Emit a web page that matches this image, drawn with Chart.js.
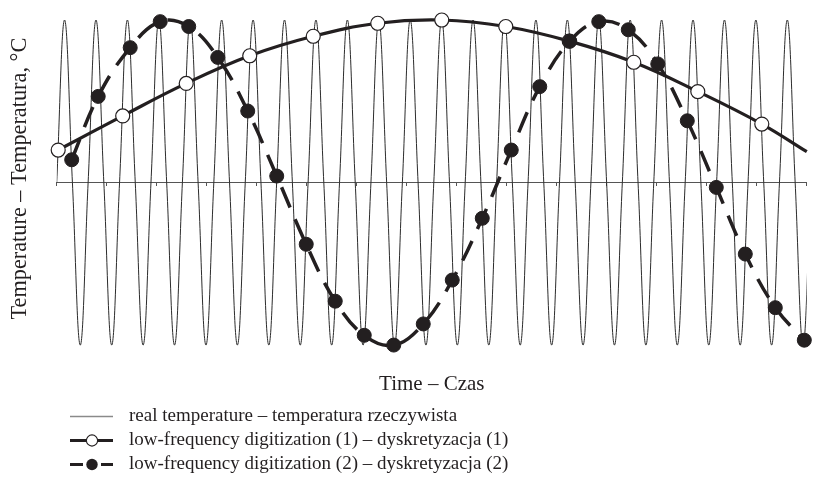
<!DOCTYPE html>
<html>
<head>
<meta charset="utf-8">
<script src="https://cdn.jsdelivr.net/npm/chart.js@4.4.1/dist/chart.umd.min.js"></script>
<style>
  html, body { margin: 0; padding: 0; background: #fff; }
  #wrap { position: relative; width: 815px; height: 479px; }
</style>
</head>
<body>
<div id="wrap"><canvas id="chart"></canvas></div>
<script>
// Real temperature: value at every quarter period (zero, peak, zero, trough ...)
const realStep = 0.1571;
const realValues = [
  0, 1, 0, -1, 0, 1, 0, -1, 0, 1, 0, -1, 0, 1, 0, -1,
  0, 1, 0, -1, 0, 1, 0, -1, 0, 1, 0, -1, 0, 1, 0, -1,
  0, 1, 0, -1, 0, 1, 0, -1, 0, 1, 0, -1, 0, 1, 0, -1,
  0, 1, 0, -1, 0, 1, 0, -1, 0, 1, 0, -1, 0, 1, 0, -1,
  0, 1, 0, -1, 0, 1, 0, -1, 0, 1, 0, -1, 0, 1, 0, -1,
  0, 1, 0, -1, 0, 1, 0, -1, 0, 1, 0, -1, 0, 1, 0, -1,
  0
];

// Digitization (1) - open circles, last point is the end of the line only
const lowFreq1X = [0.03, 1.32, 2.59, 3.86, 5.13, 6.42, 7.70, 8.98, 10.25, 11.54, 12.82, 14.10, 15.0];
const lowFreq1Y = [0.20, 0.41, 0.61, 0.78, 0.90, 0.98, 1.00, 0.96, 0.87, 0.74, 0.56, 0.36, 0.19];

// Digitization (2) - filled circles
const lowFreq2X = [0.30, 0.83, 1.47, 2.07, 2.64, 3.22, 3.82, 4.40, 4.99, 5.57, 6.15, 6.74, 7.33,
                   7.91, 8.51, 9.09, 9.66, 10.26, 10.84, 11.43, 12.02, 12.61, 13.19, 13.77, 14.37, 14.95];
const lowFreq2Y = [0.14, 0.53, 0.83, 0.99, 0.96, 0.77, 0.44, 0.04, -0.38, -0.73, -0.94, -1.00, -0.87,
                   -0.60, -0.22, 0.20, 0.59, 0.87, 0.99, 0.94, 0.73, 0.38, -0.03, -0.44, -0.77, -0.97];

const seriesLabels = [
  'real temperature – temperatura rzeczywista',
  'low-frequency digitization (1) – dyskretyzacja (1)',
  'low-frequency digitization (2) – dyskretyzacja (2)'
];
const xTitle = 'Time – Czas';
const yTitle = 'Temperature – Temperatura, °C';
const xMin = 0, xMax = 15, xTickStep = 1;
const yMin = -1.0242, yMax = 1.0727;

const FONT = '"Liberation Serif", "Times New Roman", serif';
const INK = '#231f20';

function toPoints(xs, ys) {
    return xs.map((x, i) => ({ x: x, y: ys[i] }));
}

// legend drawn by hand: one row per series, line sample + marker + text
const stackedLegend = {
    id: 'stackedLegend',
    afterDraw(chart) {
        const ctx = chart.ctx;
        const x0 = 70, x1 = 113, xm = 92, textX = 129;
        const rowsY = [416.5, 440.5, 464.5];
        ctx.save();
        chart.data.datasets.forEach((ds, i) => {
            const y = rowsY[i];
            ctx.setLineDash([]);
            if (i === 0) {
                ctx.strokeStyle = '#8a8a8a';
                ctx.lineWidth = 1.3;
                ctx.beginPath();
                ctx.moveTo(x0, y); ctx.lineTo(x1, y);
                ctx.stroke();
            } else if (i === 1) {
                ctx.strokeStyle = INK;
                ctx.lineWidth = 3;
                ctx.beginPath();
                ctx.moveTo(x0, y); ctx.lineTo(x1, y);
                ctx.stroke();
                ctx.beginPath();
                ctx.arc(xm, y, 5.6, 0, Math.PI * 2);
                ctx.fillStyle = '#fff';
                ctx.fill();
                ctx.lineWidth = 1.1;
                ctx.stroke();
            } else {
                ctx.strokeStyle = INK;
                ctx.lineWidth = 3;
                ctx.beginPath();
                ctx.moveTo(x0, y); ctx.lineTo(83, y);
                ctx.moveTo(101, y); ctx.lineTo(x1, y);
                ctx.stroke();
                ctx.beginPath();
                ctx.arc(xm, y, 5.7, 0, Math.PI * 2);
                ctx.fillStyle = INK;
                ctx.fill();
            }
            ctx.fillStyle = INK;
            ctx.font = '19px ' + FONT;
            ctx.textBaseline = 'alphabetic';
            ctx.textAlign = 'left';
            ctx.fillText(ds.label, textX, y + 4.5);
        });
        ctx.restore();
    }
};

new Chart(document.getElementById('chart'), {
    type: 'line',
    data: {
        datasets: [
            {
                label: seriesLabels[0],
                data: realValues.map((v, i) => ({ x: i * realStep, y: v })),
                borderColor: '#2b2b2b',
                borderWidth: 1,
                pointRadius: 0,
                tension: 0.4,
                clip: 0,
                order: 3
            },
            {
                label: seriesLabels[1],
                data: toPoints(lowFreq1X, lowFreq1Y),
                borderColor: INK,
                borderWidth: 3.2,
                tension: 0.4,
                pointRadius: ctx => (ctx.dataIndex === lowFreq1X.length - 1 ? 0 : 7),
                pointBackgroundColor: '#fff',
                pointBorderColor: INK,
                pointBorderWidth: 1.2,
                clip: false,
                order: 2
            },
            {
                label: seriesLabels[2],
                data: toPoints(lowFreq2X, lowFreq2Y),
                borderColor: INK,
                borderWidth: 3.5,
                borderDash: [22, 13],
                tension: 0.4,
                pointRadius: 7,
                pointBackgroundColor: INK,
                pointBorderColor: INK,
                pointBorderWidth: 1,
                clip: false,
                order: 1
            }
        ]
    },
    options: {
        responsive: true,
        maintainAspectRatio: false,
        animation: false,
        layout: { padding: { top: 3, right: 3.3, bottom: 82, left: 0 } },
        plugins: {
            legend: { display: false },
            tooltip: { enabled: false }
        },
        scales: {
            x: {
                type: 'linear',
                position: 'bottom',
                min: xMin,
                max: xMax,
                ticks: { display: false },
                grid: { display: false, drawTicks: false },
                border: { display: false },
                title: {
                    display: true,
                    text: xTitle,
                    color: INK,
                    font: { family: FONT, size: 21 },
                    padding: { top: 22.8, bottom: 0 }
                }
            },
            xMid: {
                type: 'linear',
                axis: 'x',
                position: { y: 0 },
                min: xMin,
                max: xMax,
                ticks: { display: false, stepSize: xTickStep },
                grid: { display: true, drawOnChartArea: false, drawTicks: true, tickLength: 3, color: '#555', lineWidth: 1 },
                border: { display: true, color: '#555', width: 1 }
            },
            y: {
                type: 'linear',
                position: 'left',
                min: yMin,
                max: yMax,
                ticks: { display: false },
                grid: { display: false, drawTicks: false },
                border: { display: false },
                title: {
                    display: true,
                    text: yTitle,
                    color: INK,
                    font: { family: FONT, size: 22.3 },
                    padding: { top: 7.1, bottom: 22.84 }
                }
            }
        }
    },
    plugins: [stackedLegend]
});
</script>
</body>
</html>
